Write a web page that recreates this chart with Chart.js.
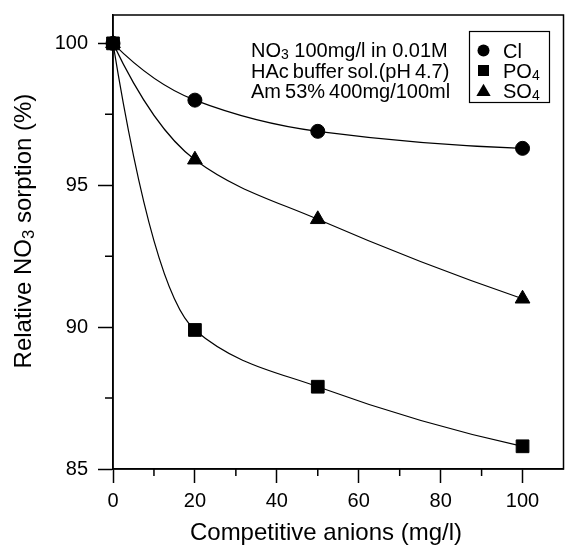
<!DOCTYPE html>
<html>
<head>
<meta charset="utf-8">
<script src="https://cdn.jsdelivr.net/npm/chart.js@4"></script>
<style>
  html, body { margin: 0; padding: 0; background: #fff; overflow: hidden; }
  canvas { display: block; }
</style>
</head>
<body>
<canvas id="sorption" width="566" height="546"></canvas>
<script>
// ── Data ───────────────────────────────────────────────────
const anionConc   = [0, 20, 50, 100];          // mg/l
const clSorption  = [100, 98.0, 96.9, 96.3];   // %
const po4Sorption = [100, 89.9, 87.9, 85.8];
const so4Sorption = [100, 95.9, 93.8, 91.0];

const xMinorTicks = [10, 30, 50, 70, 90];
const yMinorTicks = [87.5, 92.5, 97.5];

const noteLines = [
  ["NO", "3", " 100mg/l in 0.01M"],
  ["HAc\u2009buffer\u2009sol.(pH\u20094.7)"],
  ["Am\u200953%\u2009400mg/100ml"],
];

const FONT = "'Liberation Sans', Arial, sans-serif";

function pts(ys) {
  return anionConc.map((x, i) => ({ x, y: ys[i] }));
}

// ── Helpers ────────────────────────────────────────────────
// draws "main" + smaller lowered digit parts, returns end x
function drawSubText(ctx, x, y, parts, size) {
  let cx = x;
  parts.forEach((p, i) => {
    const isSub = /^\d$/.test(p) && i > 0;
    ctx.font = (isSub ? size * 0.7 : size) + "px " + FONT;
    ctx.fillText(p, cx, isSub ? y + size * 0.12 : y);
    cx += ctx.measureText(p).width;
  });
  return cx;
}

function marker(ctx, style, x, y, r) {
  ctx.beginPath();
  if (style === "circle") {
    ctx.arc(x, y, r, 0, Math.PI * 2);
  } else if (style === "rect") {
    ctx.rect(x - r, y - r, r * 2, r * 2);
  } else {
    ctx.moveTo(x, y - r * 1.05);
    ctx.lineTo(x + r * 1.1, y + r * 0.85);
    ctx.lineTo(x - r * 1.1, y + r * 0.85);
    ctx.closePath();
  }
  ctx.fill();
}

// tangents: weighted harmonic mean inside, three-point rule at the ends
function splineSlopes(xs, ys) {
  const n = xs.length;
  const h = [], d = [];
  for (let i = 0; i < n - 1; i++) {
    h.push(xs[i + 1] - xs[i]);
    d.push((ys[i + 1] - ys[i]) / h[i]);
  }
  const m = new Array(n).fill(0);
  for (let i = 1; i < n - 1; i++) {
    if (d[i - 1] * d[i] <= 0) continue;
    const w1 = 2 * h[i] + h[i - 1];
    const w2 = h[i] + 2 * h[i - 1];
    m[i] = (w1 + w2) / (w1 / d[i - 1] + w2 / d[i]);
  }
  m[0] = 2 * d[0] - m[1];
  m[n - 1] = 2 * d[n - 2] - m[n - 2];
  return m;
}

// ── Smooth curves through the data points ──────────────────
const smoothCurves = {
  id: "smoothCurves",
  beforeDatasetDraw(chart, args) {
    const meta = args.meta;
    const { x: xs, y: ys } = chart.scales;
    const data = chart.data.datasets[args.index].data;
    const dx = data.map(p => p.x), dy = data.map(p => p.y);
    const m = splineSlopes(dx, dy);
    meta.data.forEach((pt, i) => {
      if (i > 0) {
        const hb = (dx[i] - dx[i - 1]) / 3;
        pt.cp1x = xs.getPixelForValue(dx[i] - hb);
        pt.cp1y = ys.getPixelForValue(dy[i] - m[i] * hb);
      }
      if (i < dx.length - 1) {
        const ha = (dx[i + 1] - dx[i]) / 3;
        pt.cp2x = xs.getPixelForValue(dx[i] + ha);
        pt.cp2y = ys.getPixelForValue(dy[i] + m[i] * ha);
      }
    });
    meta.dataset._pointsUpdated = true;
  }
};

// ── Frame, minor ticks, titles, note, legend ───────────────
const decorations = {
  id: "decorations",
  afterDraw(chart) {
    const { ctx, chartArea: a, scales: { x, y } } = chart;
    ctx.save();
    ctx.strokeStyle = "#000";
    ctx.fillStyle = "#000";
    ctx.lineWidth = 1.5;
    ctx.strokeRect(a.left, a.top, a.right - a.left, a.bottom - a.top);

    ctx.beginPath();
    xMinorTicks.forEach(v => {
      const px = x.getPixelForValue(v);
      ctx.moveTo(px, a.bottom);
      ctx.lineTo(px, a.bottom + 7);
    });
    yMinorTicks.forEach(v => {
      const py = y.getPixelForValue(v);
      ctx.moveTo(a.left, py);
      ctx.lineTo(a.left - 8, py);
    });
    ctx.stroke();

    // x title
    ctx.textBaseline = "alphabetic";
    ctx.textAlign = "center";
    ctx.font = "24px " + FONT;
    ctx.fillText("Competitive anions (mg/l)", 326, 540);

    // y title with subscript
    ctx.save();
    ctx.translate(31, 231);
    ctx.rotate(-Math.PI / 2);
    ctx.textAlign = "left";
    const yParts = ["Relative NO", "3", " sorption (%)"];
    let w = 0;
    yParts.forEach((p, i) => {
      ctx.font = (i === 1 ? 17 : 24) + "px " + FONT;
      w += ctx.measureText(p).width;
    });
    drawSubText(ctx, -w / 2, 0, yParts, 24);
    ctx.restore();

    // note
    ctx.textAlign = "left";
    const noteY = [57, 77.5, 98];
    noteLines.forEach((line, i) => drawSubText(ctx, 251, noteY[i], line, 20));

    // legend
    ctx.lineWidth = 1.2;
    ctx.strokeRect(469.5, 31.5, 80, 71);
    const legend = [
      ["circle", ["Cl"], 6],
      ["rect", ["PO", "4"], 5.5],
      ["triangle", ["SO", "4"], 6.5],
    ];
    legend.forEach(([style, label, r], i) => {
      const cy = 50.5 + i * 20;
      marker(ctx, style, 483.5, cy, r);
      drawSubText(ctx, 503, cy + 7, label, 20);
    });
    ctx.restore();
  }
};

// ── Chart ──────────────────────────────────────────────────
const line = (label, ys, style, radius, order) => ({
  label,
  data: pts(ys),
  borderColor: "#000",
  borderWidth: 1.2,
  backgroundColor: "#000",
  pointStyle: style,
  pointRadius: radius,
  pointBorderWidth: 1,
  pointBackgroundColor: "#000",
  pointBorderColor: "#000",
  tension: 0.4,
  clip: false,
  order,
});

const tickFont = { family: FONT, size: 20 };

new Chart(document.getElementById("sorption"), {
  type: "line",
  data: {
    datasets: [
      line("Cl", clSorption, "circle", 7, 2),
      line("PO4", po4Sorption, "rect", 9, 0),
      line("SO4", so4Sorption, "triangle", 8.5, 1),
    ],
  },
  options: {
    responsive: false,
    animation: false,
    layout: { autoPadding: false, padding: { top: 15, right: 2.5, bottom: 0, left: 0 } },
    plugins: { legend: { display: false }, tooltip: { enabled: false } },
    scales: {
      x: {
        type: "linear",
        min: 0,
        max: 110,
        afterFit: s => { s.height = 77; s.paddingLeft = 0; s.paddingRight = 0; },
        ticks: { stepSize: 20, includeBounds: false, color: "#000", font: tickFont, padding: 6, maxRotation: 0 },
        grid: { drawOnChartArea: false, drawTicks: true, tickLength: 14, tickWidth: 1.5, tickColor: "#000" },
        border: { display: true, color: "#000", width: 1.5 },
      },
      y: {
        min: 85,
        max: 101,
        afterFit: s => { s.width = 113; s.paddingTop = 0; s.paddingBottom = 0; },
        ticks: { stepSize: 5, includeBounds: false, color: "#000", font: tickFont, padding: 10 },
        grid: { drawOnChartArea: false, drawTicks: true, tickLength: 15, tickWidth: 1.5, tickColor: "#000" },
        border: { display: true, color: "#000", width: 1.5 },
      },
    },
  },
  plugins: [smoothCurves, decorations],
});
</script>
</body>
</html>
